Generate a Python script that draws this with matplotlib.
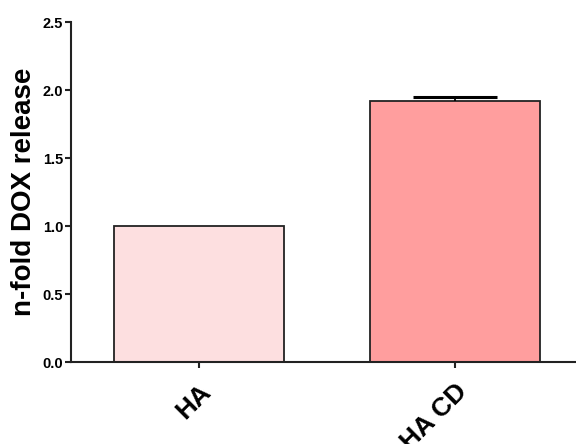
import matplotlib
matplotlib.use("Agg")
import matplotlib.pyplot as plt

categories = ["HA", "HA CD"]
values = [1.0, 1.92]
errors = [0.0, 0.03]
colors = ["#FDDFE0", "#FF9E9E"]

plt.rcParams['font.family'] = ['Liberation Sans', 'DejaVu Sans']

fig = plt.figure(figsize=(5.76, 4.44), dpi=100)
ax = fig.add_axes([71 / 576, 1 - 362 / 444, 1 - 71 / 576, (362 - 22) / 444])

x = list(range(len(categories)))
ax.bar(x, values, width=0.664, color=colors, edgecolor="#222222", linewidth=1.3, zorder=2)
for xi, v, e in zip(x, values, errors):
    if e > 0:
        _, caps, _ = ax.errorbar(xi, v, yerr=[[0], [e]], fmt="none", ecolor="black",
                                 elinewidth=1.3, capsize=30, capthick=2.2, zorder=3)
        # keep only the upper cap
        for c in caps:
            if abs(c.get_ydata()[0] - v) < 1e-9:
                c.set_visible(False)

ax.set_xlim(-0.5, 1.473)
ax.set_ylim(0, 2.5)
ax.set_yticks([0.0, 0.5, 1.0, 1.5, 2.0, 2.5])
ax.set_yticklabels(["0.0", "0.5", "1.0", "1.5", "2.0", "2.5"], fontweight="bold", fontsize=10.5)
ax.set_xticks(x)
ax.set_xticklabels(categories, fontweight="bold", fontsize=19, rotation=45,
                   ha="right", va="top", rotation_mode="anchor")
ax.set_ylabel("n-fold DOX release", fontweight="bold", fontsize=20, labelpad=4)

for side in ("top", "right"):
    ax.spines[side].set_visible(False)
for side in ("left", "bottom"):
    ax.spines[side].set_linewidth(1.5)
    ax.spines[side].set_color("#222222")
ax.tick_params(axis="both", direction="out", length=4.5, width=1.5, color="#222222")
ax.tick_params(axis="y", pad=1)
ax.tick_params(axis="x", pad=8)

fig.savefig("out.png", dpi=100)
